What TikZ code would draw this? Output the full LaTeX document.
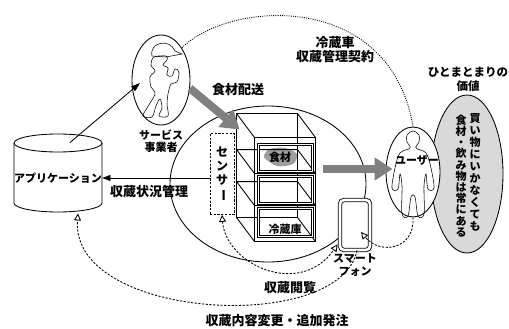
\documentclass[tikz,border=0pt]{standalone}
\usepackage{fontspec}
\setmainfont{Noto Sans CJK JP}
\usetikzlibrary{arrows.meta,shapes.geometric,positioning}
\definecolor{arrowgray}{gray}{0.5}
\definecolor{valuegray}{gray}{0.85}
\definecolor{foodgray}{gray}{0.62}
\begin{document}
\begin{tikzpicture}[x=1pt,y=-1pt,line width=0.85pt,
	lbl/.style={font=\fontsize{13}{14}\selectfont\bfseries,align=center,inner sep=0pt},
	sml/.style={font=\fontsize{11}{12.5}\selectfont\bfseries,align=center,inner sep=0pt},
	dsh/.style={dash pattern=on 2.2pt off 1.5pt},
	opn/.style={dsh,-{Triangle[open,length=7pt,width=7pt,fill=white]}},
	opnboth/.style={dsh,{Triangle[open,length=7pt,width=7pt,fill=white]}-{Triangle[open,length=7pt,width=7pt,fill=white]}},
	fat/.style={line width=8pt,draw=arrowgray,-{Triangle[length=18pt,width=22pt]}},
	fig/.style={line width=0.55pt}]
	\useasboundingbox (0,0) rectangle (509,329);
	% big round areas
	\node[ellipse,draw,minimum width=196,minimum height=156] (store) at (268,184) {};
	\node[ellipse,draw,fill=valuegray,minimum width=72,minimum height=158] (value) at (467,174) {};
	\node[font=\fontsize{11}{12}\selectfont\bfseries,align=center,inner sep=0pt] (col1) at (475,172) {買\\い\\物\\に\\い\\か\\な\\く\\て\\も};
	\node[font=\fontsize{11}{11.2}\selectfont\bfseries,align=center,inner sep=0pt] (col2) at (461,176) {食\\材\\・\\飲\\み\\物\\は\\常\\に\\あ\\る};
	\node[font=\fontsize{11.5}{14}\selectfont\bfseries,align=center,inner sep=0pt] (valt) at (468,79) {ひとまとまりの\\価値};
	% actors
	\node[ellipse,draw,fill=white,minimum width=58,minimum height=90] (svc) at (161,80) {};
	\node[sml,below=4pt of svc] (svct) {サービス\\事業者};
	\node[ellipse,draw,fill=white,minimum width=54,minimum height=90] (user) at (413,172) {};
	% worker
	\draw[fig] plot[smooth cycle,tension=0.55] coordinates {(154,57) (151,65) (155,71) (150,77) (151,87) (155,94) (147,108) (143,116) (152,117) (156,106) (160,99) (162,108) (159,116) (168,116) (167,104) (168,94) (171,84) (177,82) (179,72) (175,69) (172,76) (167,75) (168,68) (163,65) (167,60) (166,56)};
	\draw[fig] (152,56) .. controls (149,42) and (170,38) .. (175,51) -- (182,54) -- (166,57) -- cycle;
	% user
	\draw[fig] plot[smooth cycle,tension=0.55] coordinates {(413,131) (419,135) (419,142) (416,148) (426,153) (431,168) (434,188) (428,189) (426,174) (424,186) (424,214) (418,216) (415,197) (411,197) (408,216) (402,214) (402,186) (400,174) (398,189) (392,188) (395,168) (400,153) (410,148) (407,142) (407,135)};
	\node[sml] (usert) at (417,160) {ユーザー};
	% application
	\draw (58,143) ellipse [x radius=44pt,y radius=9pt];
	\draw (14,143) -- (14,203) arc[start angle=180,end angle=360,x radius=44pt,y radius=9pt] -- (102,143);
	\node[sml,minimum width=88,minimum height=70] (app) at (58,178) {アプリケーション};
	% fridge
	\node[minimum width=79,minimum height=128,inner sep=0pt] (fridge) at (276.5,178) {};
	\fill[foodgray] plot[smooth cycle] coordinates {(264,157) (270,149) (285,148) (297,154) (293,164) (277,166)};
	\begin{scope}[shift={(fridge.north west)}]
		\draw (0,0) rectangle (61,104) (18,24) rectangle (79,128);
		\foreach \a/\b in {0/0,61/0,0/104,61/104} \draw (\a,\b) -- ++(18,24);
		\foreach \s in {36,68} \draw (0,\s) -- (61,\s) -- ++(18,24) -- ++(-61,0) -- cycle;
		\foreach \t/\u in {31/58,63/90,95/123} \draw[double,double distance=1.2pt] (22,\t) rectangle (76,\u);
	\end{scope}
	\node[sml] (food) at (280,157) {食材};
	\node[sml] (frt) at (285,229) {冷蔵庫};
	\node[draw,dsh,fill=white,minimum width=24,minimum height=81,inner sep=0pt,font=\fontsize{12}{14}\selectfont\bfseries,align=center] (sensor) at (222,174) {セ\\ン\\サ\\\rotatebox[origin=c]{-90}{ー}};
	% phone
	\node[draw,double,double distance=2.6pt,rounded corners=4pt,fill=white,minimum width=30,minimum height=50,inner sep=0pt] (phone) at (355,225) {};
	\node[sml,below=3pt of phone] (phonet) {スマート\\フォン};
	% labels
	\node[lbl] (deliv) at (238,90) {食材配送};
	\node[lbl] (contract) at (335,50) {冷蔵車\\収蔵管理契約};
	\node[lbl] (status) at (149,192) {収蔵状況管理};
	\node[lbl] (view) at (290,288) {収蔵閲覧};
	\node[lbl] (order) at (277,321) {収蔵内容変更・追加発注};
	% connectors
	\draw[dash pattern=on 1pt off 1.2pt] (svc.north east) .. controls (230,0) and (390,-10) .. (user.north);
	\draw[-{Triangle[length=9pt,width=6pt]}] ([xshift=12pt]app.north) -- ([shift={(-21pt,-3pt)}]svc.center);
	\draw[-{Triangle[length=8pt,width=6pt]}] (sensor.west |- app.east) -- (app.east);
	\draw[fat] (svc.-16) -- ([shift={(3pt,-16pt)}]fridge.north west);
	\draw[fat] ([shift={(7pt,9pt)}]fridge.east) -- ([shift={(7pt,3pt)}]user.west);
	\draw[opn] (user.south) .. controls (415,250) and (380,255) .. ([shift={(6pt,-7pt)}]phone.center);
	\draw[opnboth] (sensor.south) .. controls (226,265) and (300,298) .. ([shift={(-2pt,6pt)}]phone.south west);
	\draw[opn] ([xshift=2pt]phone.south) .. controls (340,335) and (70,320) .. ([xshift=20pt]app.south);
\end{tikzpicture}
\end{document}
